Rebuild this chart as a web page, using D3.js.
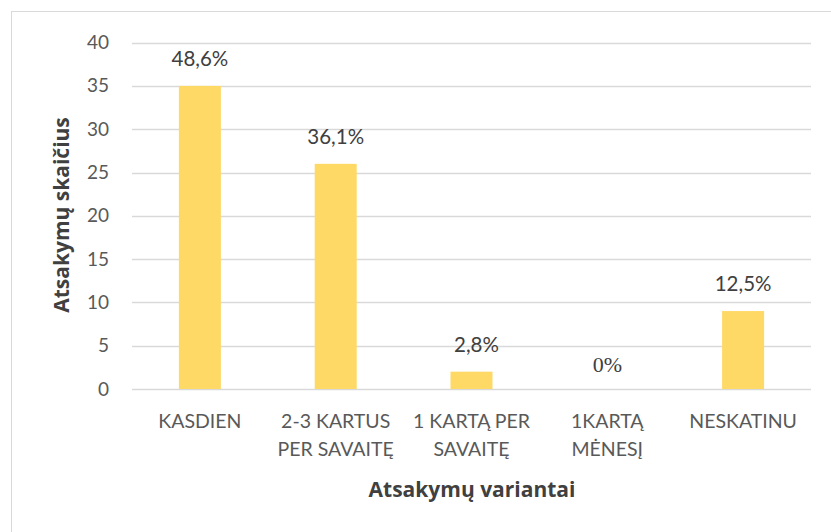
<!DOCTYPE html>
<html><head><meta charset="utf-8">
<script src="https://cdn.jsdelivr.net/npm/d3@7"></script>
<style>body{margin:0;background:#fff;} svg{display:block;} .serif{font-family:"Liberation Serif","DejaVu Serif","Times New Roman",serif !important;}</style>
</head><body>
<script>
const categories = [["KASDIEN"], ["2-3 KARTUS", "PER SAVAITĘ"], ["1 KARTĄ PER", "SAVAITĘ"], ["1KARTĄ", "MĖNESĮ"], ["NESKATINU"]];
const values = [35, 26, 2, 0, 9];
const labels = ["48,6%", "36,1%", "2,8%", "0%", "12,5%"];
const yTicks = [0, 5, 10, 15, 20, 25, 30, 35, 40];
const yTitle = "Atsakymų skaičius";
const xTitle = "Atsakymų variantai";

(function () {
const W = 831, H = 532;
const svg = d3.select("body").append("svg").attr("width", W).attr("height", H);
svg.append("rect").attr("x", 11.5).attr("y", 11.5).attr("width", 840).attr("height", 540)
  .attr("fill", "#fff").attr("stroke", "#d9d9d9").attr("stroke-width", 1);

const pL = 132, pR = 811, pT = 42.6, pB = 389;
const x = d3.scaleBand().domain(d3.range(values.length)).range([pL, pR]).paddingInner(0).paddingOuter(0);
const y = d3.scaleLinear().domain([0, 40]).range([pB, pT]);
const font = "Lato, 'Open Sans', sans-serif";
const boldFont = "'Open Sans', Lato, sans-serif";

svg.append("g").selectAll("line").data(yTicks).join("line")
  .attr("x1", pL).attr("x2", pR)
  .attr("y1", d => Math.round(y(d)) + 0.5).attr("y2", d => Math.round(y(d)) + 0.5)
  .attr("stroke", "#d9d9d9").attr("stroke-width", 1.3);

const yAxis = d3.axisLeft(y).tickValues(yTicks).tickSize(0).tickPadding(0);
const gy = svg.append("g").attr("transform", `translate(${109},0)`).call(yAxis);
gy.select(".domain").remove();
gy.attr("font-family", null).attr("font-size", null);
gy.selectAll("text").attr("font-family", font).attr("font-size", 19).attr("fill", "#595959");

const bw = 42;
svg.append("g").selectAll("rect").data(values).join("rect")
  .attr("x", (d, i) => x(i) + x.bandwidth() / 2 - bw / 2)
  .attr("width", bw)
  .attr("y", d => y(d))
  .attr("height", d => pB - y(d))
  .attr("fill", "#ffd966");

svg.append("g").selectAll("text").data(values).join("text")
  .attr("class", d => d === 0 ? "serif" : null)
  .attr("x", (d, i) => x(i) + x.bandwidth() / 2 + (i === 2 ? 5 : 0))
  .attr("y", d => y(d) - (d === 0 ? 17 : 20))
  .attr("text-anchor", "middle")
  .attr("font-family", d => d === 0 ? "Liberation Serif" : font)
  .attr("font-size", d => d === 0 ? 22 : 20.5)
  .attr("fill", "#404040")
  .text((d, i) => labels[i]);

const cg = svg.append("g");
categories.forEach((lines, i) => {
  const t = cg.append("text").attr("text-anchor", "middle")
    .attr("font-family", font).attr("font-size", 19.5).attr("fill", "#595959");
  lines.forEach((ln, j) => {
    t.append("tspan").attr("x", x(i) + x.bandwidth() / 2).attr("y", 428 + j * 27.5).text(ln);
  });
});

svg.append("text").attr("x", 472).attr("y", 497)
  .attr("text-anchor", "middle").attr("font-family", boldFont).attr("font-weight", "bold")
  .attr("font-size", 21).attr("fill", "#404040").text(xTitle);
svg.append("text").attr("transform", `translate(69,215) rotate(-90)`)
  .attr("text-anchor", "middle").attr("font-family", boldFont).attr("font-weight", "bold")
  .attr("font-size", 21).attr("fill", "#404040").text(yTitle);
})();
</script>
</body></html>
